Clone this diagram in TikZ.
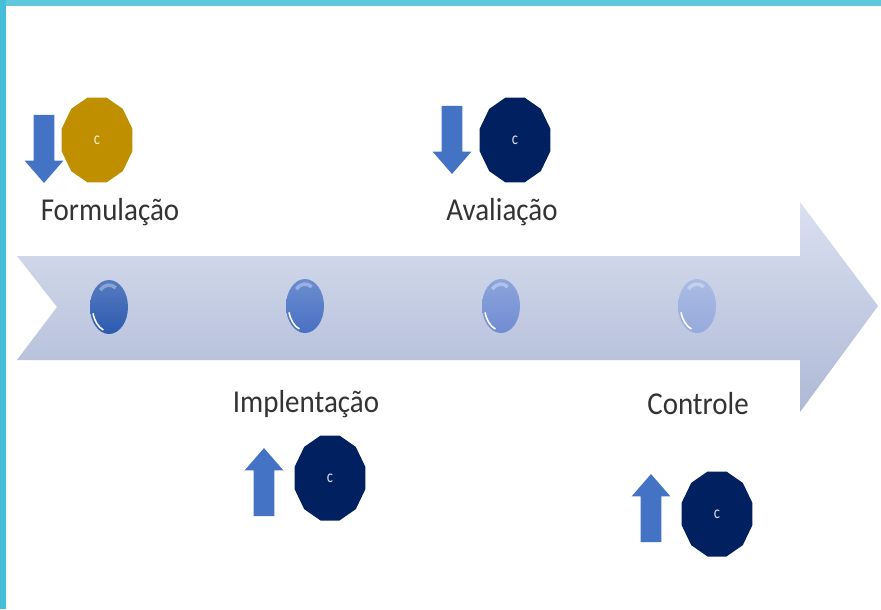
\documentclass[tikz,border=0pt]{standalone}
\usepackage{fontspec}
\setmainfont{Carlito}
\usepackage{xcolor}
\usetikzlibrary{shapes.geometric,shapes.arrows}
\definecolor{barTeal}{HTML}{45BFD8}
\definecolor{coinGold}{HTML}{BF8F00}
\definecolor{coinNavy}{HTML}{002060}
\definecolor{arrowBlue}{HTML}{4472C4}
\definecolor{bandTop}{HTML}{DAE0F0}
\definecolor{bandMid}{HTML}{CFD7EA}
\definecolor{bandLow}{HTML}{AEB9D6}
\definecolor{beadOne}{HTML}{2C5AAF}
\definecolor{beadTwo}{HTML}{4870C3}
\definecolor{beadThree}{HTML}{708DD2}
\definecolor{beadFour}{HTML}{96AADC}
\tikzset{
    coin/.style={regular polygon, regular polygon sides=12, minimum size=1.76cm, inner sep=0pt,
        xscale=.83, transform shape, fill=#1, text=white!85!#1, font=\fontsize{10}{11}\selectfont},
    updown/.style={single arrow, fill=arrowBlue, minimum height=1.36cm, minimum width=0.76cm,
        single arrow head extend=0.18cm, single arrow tip angle=82, inner xsep=0pt, inner ysep=0.2cm, rotate=#1},
    stage/.style={font=\fontsize{16.5}{18}\selectfont, text=black!80, inner sep=0pt, yscale=1.1, transform shape},
    bead/.style={ellipse, minimum width=0.76cm, minimum height=1.08cm, inner sep=0pt,
        top color=#1!80!white, bottom color=#1,
        path picture={\coordinate (beadmid) at (path picture bounding box.center);
            \draw[white, line width=.9pt] ([shift={(195:.33cm and .49cm)}]beadmid)
                arc[start angle=195, end angle=250, x radius=.33cm, y radius=.49cm];
            \draw[white!45!#1, line width=2pt] ([shift={(60:.27cm and .44cm)}]beadmid)
                arc[start angle=60, end angle=130, x radius=.27cm, y radius=.44cm];}}
}
\begin{document}
\begin{tikzpicture}[x=0.02cm, y=-0.02cm]
    \useasboundingbox (0,0) rectangle (881,609);
    \fill[white] (0,0) rectangle (881,609);
    \fill[barTeal!85!white] (0,0) rectangle (881,6);
    \fill[barTeal] (0,0) rectangle (6,609);
    % big arrow
    \shade[top color=bandTop, middle color=bandMid, bottom color=bandLow]
        (17,256) -- (800,256) -- (800,202) -- (878,306) -- (800,412) -- (800,360) -- (17,360) -- (57,307) -- cycle;
    % stages along the arrow
    \node[bead=beadOne] (beadA) at (109,307) {};
    \node[bead=beadTwo] (beadB) at (305,306) {};
    \node[bead=beadThree] (beadC) at (501,306) {};
    \node[bead=beadFour] (beadD) at (697,306) {};
    \node[stage] (formulacao) at (110,212) {Formulação};
    \node[stage] (avaliacao) at (502,212) {Avaliação};
    \node[stage] (implentacao) at (306,404) {Implentação};
    \node[stage] (controle) at (698,404) {Controle};
    \node[coin=coinGold] (coinA) at (97,140) {c};
    \node[coin=coinNavy] (coinB) at (515,140) {c};
    \node[coin=coinNavy] (coinC) at (330,478) {c};
    \node[coin=coinNavy] (coinD) at (717,514) {c};
    \node[updown=270] (arrowA) at (44,143) {};
    \node[updown=270] (arrowB) at (452,134) {};
    \node[updown=90] (arrowC) at (264,488) {};
    \node[updown=90] (arrowD) at (651,514) {};
\end{tikzpicture}
\end{document}
